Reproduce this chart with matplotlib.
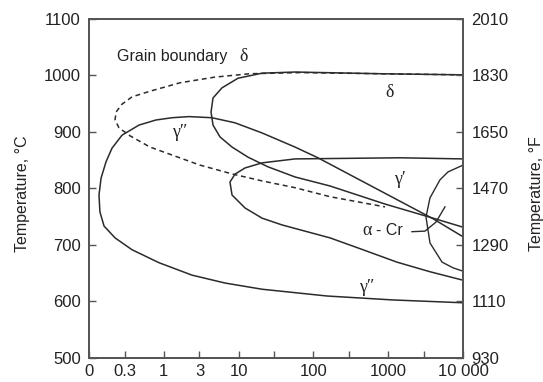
import numpy as np
import matplotlib
matplotlib.use("Agg")
import matplotlib.pyplot as plt

plt.rcParams['font.family'] = ['Liberation Sans', 'DejaVu Sans']

# time in h (log scale), temperature in C
# gamma'' C-curve (upper branch from right edge, round the nose, lower branch to right edge)
g2_time = [10000, 3972, 115, 56.8, 20.6, 8.95, 4.41, 2.17, 1.29, 0.787, 0.466, 0.276, 0.203, 0.169, 0.145, 0.136,
           0.140, 0.159, 0.223, 0.376, 0.863, 2.38, 6.58, 20.6, 66.2, 152, 1160, 10000]
g2_temp = [714, 746, 854, 873, 898, 916, 925, 927, 925, 921, 912, 894, 871, 847, 818, 788,
           758, 733, 712, 691, 668, 646, 632, 621, 614, 609, 602, 597]

# delta C-curve
d_time = [10000, 776, 56.8, 20.6, 9.82, 6.00, 4.55, 4.28, 4.55, 5.64, 8.17, 13.4, 24.7, 56.8, 167, 906, 3972, 10000]
d_temp = [1001, 1003, 1006, 1004, 995, 978, 960, 935, 912, 891, 873, 855, 838, 820, 804, 772, 747, 731]

# grain boundary delta (dashed)
gb_time = [10000, 776, 66.2, 14.2, 4.83, 1.65, 0.654, 0.376, 0.276, 0.230, 0.223, 0.252, 0.353, 0.654, 1.41,
           3.05, 8.41, 20.6, 56.8, 167, 906]
gb_temp = [1001, 1003, 1005, 1003, 997, 987, 972, 962, 949, 935, 921, 907, 893, 873, 857,
           841, 825, 813, 801, 785, 767]

# gamma' C-curve
gp_time = [10000, 1432, 56.8, 20.6, 12.2, 8.95, 7.67, 8.17, 12.2, 20.6, 38.0, 167, 460, 1312, 3622, 10000]
gp_temp = [852, 854, 852, 845, 836, 825, 811, 788, 765, 747, 735, 712, 691, 669, 652, 637]

# alpha-Cr C-curve
acr_time = [10000, 6310, 4930, 3620, 3200, 3620, 5250, 7350, 10000]
acr_temp = [841, 829, 815, 783, 749, 703, 669, 659, 653]

# leader line for alpha-Cr label
lead_time = [2080, 3100, 4350, 5740]
lead_temp = [723, 724, 740, 767]

ytick_c = [500, 600, 700, 800, 900, 1000, 1100]
ytick_f = ['930', '1110', '1290', '1470', '1650', '1830', '2010']
xtick_pos = [0.1, 0.3, 1, 3, 10, 30, 100, 300, 1000, 3000, 10000]
xtick_lab = ['0', '0.3', '1', '3', '10', '', '100', '', '1000', '', '10 000']

fig = plt.figure(figsize=(5.43, 3.82), dpi=100)
ax = fig.add_axes([89/543, 24.5/382, 374/543, 338.5/382])

lc = '#2b2b2b'
ax.plot(g2_time, g2_temp, color=lc, lw=1.1)
ax.plot(d_time, d_temp, color=lc, lw=1.1)
ax.plot(gb_time, gb_temp, color=lc, lw=1.1, linestyle=(0, (3.2, 2.4)))
ax.plot(gp_time, gp_temp, color=lc, lw=1.1)
ax.plot(acr_time, acr_temp, color=lc, lw=1.0)
ax.plot(lead_time, lead_temp, color=lc, lw=1.0)

ax.set_xscale('log')
ax.set_xlim(0.1, 10000)
ax.set_ylim(500, 1100)
ax.set_xticks(xtick_pos)
ax.set_xticklabels(xtick_lab)
ax.xaxis.set_minor_locator(matplotlib.ticker.NullLocator())
ax.set_yticks(ytick_c)
ax.set_yticklabels([str(v) for v in ytick_c])

ax2 = ax.twinx()
ax2.set_ylim(500, 1100)
ax2.set_yticks(ytick_c)
ax2.set_yticklabels(ytick_f)

fs = 11.5
for a in (ax, ax2):
    a.tick_params(direction='in', length=5, width=1.0, color='#555555', labelsize=12, labelcolor='#222222', pad=6)
    for s in a.spines.values():
        s.set_color('#555555')
        s.set_linewidth(1.3)
ax.tick_params(axis='x', pad=5)

fig.text(23/543, 1 - 194/382, 'Temperature, °C', rotation=90, ha='center', va='center', fontsize=fs, color='#222222')
fig.text(536/543, 1 - 194/382, 'Temperature, °F', rotation=90, ha='center', va='center', fontsize=fs, color='#222222')

serif = ['Liberation Serif', 'DejaVu Serif']
ax.text(0.237, 1034, 'Grain boundary', ha='left', va='center', fontsize=fs, color='#222222')
ax.text(10.4, 1034, 'δ', ha='left', va='center', fontsize=13, family=serif, color='#222222')
ax.text(1057, 969, 'δ', ha='center', va='center', fontsize=13, family=serif, color='#222222')
ax.text(1.65, 899, 'γ″', ha='center', va='center', fontsize=13, family=serif, color='#222222')
ax.text(1439, 815, 'γ′', ha='center', va='center', fontsize=13, family=serif, color='#222222')
ax.text(521, 624, 'γ″', ha='center', va='center', fontsize=13, family=serif, color='#222222')
ax.text(607, 725, 'α', ha='right', va='center', fontsize=13, family=serif, color='#222222')
ax.text(687, 725, '- Cr', ha='left', va='center', fontsize=fs, color='#222222')

plt.savefig('out.png', dpi=100)
plt.close()
